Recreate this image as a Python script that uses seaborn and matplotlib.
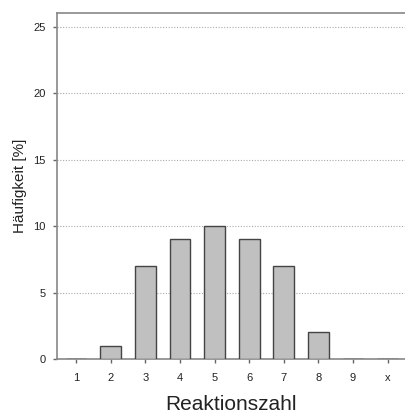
import matplotlib
matplotlib.use("Agg")
import matplotlib.pyplot as plt
import seaborn as sns
import pandas as pd

categories = ["1", "2", "3", "4", "5", "6", "7", "8", "9", "x"]
values = [0, 1, 7, 9, 10, 9, 7, 2, 0, 0]
yticks = [0, 5, 10, 15, 20, 25]

sns.set_theme(style="ticks")
plt.rcParams['font.family'] = ['Liberation Sans', 'DejaVu Sans']

df = pd.DataFrame({"Reaktionszahl": categories, "Häufigkeit": values})

fig = plt.figure(figsize=(4.05, 4.17), dpi=100)
ax = fig.add_axes([57/405, 1-359/417, 1-57/405, (359-13.3)/417])

sns.barplot(data=df, x="Reaktionszahl", y="Häufigkeit", order=categories,
            color="#c0c0c0", edgecolor="#444444", linewidth=1.0, width=0.6,
            saturation=1, ax=ax, zorder=3)

ax.set_ylim(0, 26)
ax.set_xlim(-0.55, 9.5)
ax.set_yticks(yticks)
ax.set_yticklabels([str(t) for t in yticks])
for t in yticks[1:]:
    ax.axhline(t, color="#aaaaaa", linestyle=(0, (1, 1.5)), linewidth=0.8, zorder=1)

for s in ["left", "top", "bottom"]:
    ax.spines[s].set_color("#888888")
    ax.spines[s].set_linewidth(1.2)
ax.spines["right"].set_visible(False)

ax.tick_params(axis="both", which="both", direction="out", length=3, width=1.0,
               color="#666666", labelsize=8, labelcolor="#222222", pad=5,
               bottom=True, left=True)
ax.tick_params(axis="x", pad=7)

ax.set_xlabel("Reaktionszahl", fontsize=15, color="#222222", labelpad=9)
ax.set_ylabel("Häufigkeit [%]", fontsize=11, color="#222222", labelpad=5)

fig.savefig("out.png", dpi=100)
